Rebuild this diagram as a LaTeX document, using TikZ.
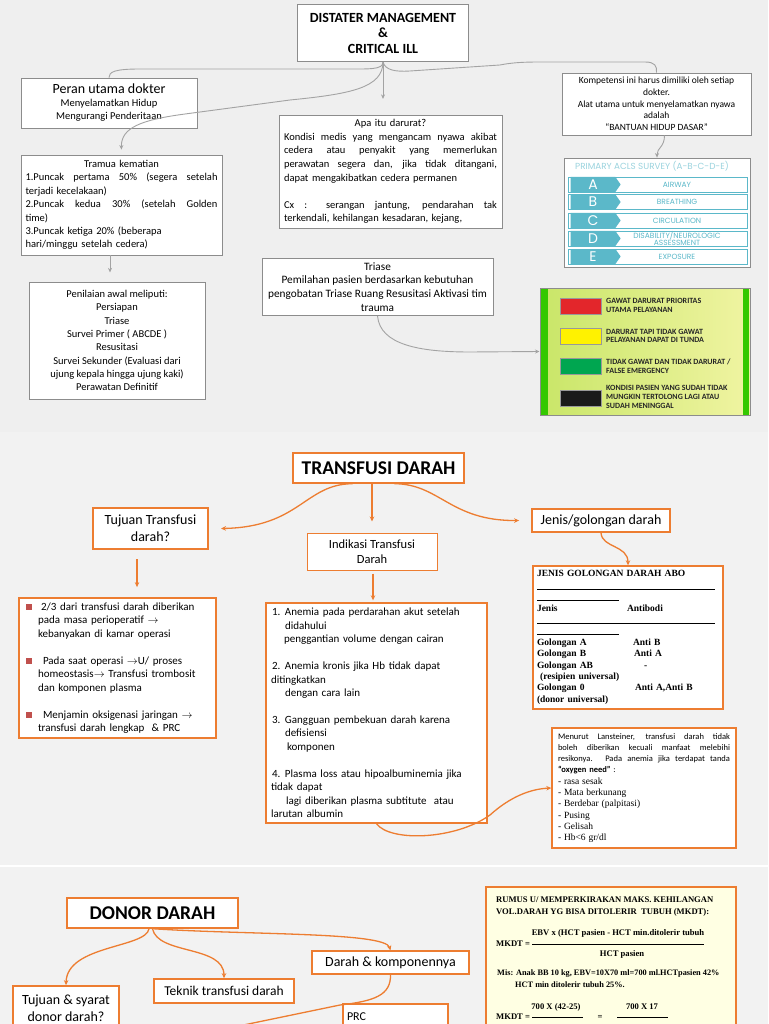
\documentclass[tikz,border=0pt]{standalone}
\usepackage{fontspec}
\setmainfont{Carlito}
\newfontfamily\tnr{Liberation Serif}
\newfontfamily\aclsfont{Poppins}
\usetikzlibrary{arrows.meta,shapes.symbols}

\definecolor{bgtop}{HTML}{EFEFEF}
\definecolor{bgmid}{HTML}{F2F2F2}
\definecolor{boxgray}{HTML}{8C8C8C}
\definecolor{linegray}{HTML}{A3A3A3}
\definecolor{orng}{HTML}{ED7D31}
\definecolor{aclsteal}{HTML}{5BB8C9}
\definecolor{aclslight}{HTML}{9AD3DE}
\definecolor{limeA}{HTML}{C9E668}
\definecolor{limeB}{HTML}{F0F4A2}
\definecolor{bargreen}{HTML}{34C800}
\definecolor{swred}{HTML}{E3262B}
\definecolor{swyellow}{HTML}{FFF200}
\definecolor{swgreen}{HTML}{00A650}
\definecolor{swblack}{HTML}{1A1A1A}
\definecolor{mkdtfill}{HTML}{FFFFE3}
\definecolor{bulred}{HTML}{C0504D}

\newcommand{\fsz}[2]{\fontsize{#1}{#2}\selectfont}
% justified line of a given width, centred line of a given width
\newcommand{\jl}[2]{{\spaceskip=0pt\xspaceskip=0pt\makebox[#1][s]{#2}}}
\newcommand{\ctrline}[2]{\hbox to #1{\hfil #2\hfil}}
\newcommand{\bul}{\hspace*{2pt}\textcolor{bulred}{\rule{6pt}{6pt}}}

\begin{document}
\begin{tikzpicture}[x=1pt, y=-1pt,
  graybox/.style={rectangle, draw=boxgray, line width=0.8pt, fill=white, inner sep=0pt, align=center},
  orangebox/.style={rectangle, draw=orng, line width=1.4pt, fill=white, inner sep=0pt, align=center},
  grayline/.style={draw=linegray, line width=0.9pt},
  grayarrow/.style={grayline, -{Stealth[length=4.5pt,width=4pt]}},
  orangeline/.style={draw=orng, line width=1.3pt},
  orangearrow/.style={orangeline, -{Stealth[length=5pt,width=4.5pt]}},
  aclsrow/.style={rectangle, draw=aclsteal, line width=0.8pt, fill=white, minimum width=179pt, minimum height=15pt, inner sep=0pt},
  aclsltr/.style={signal, signal to=east, signal pointer angle=110, fill=aclsteal, minimum width=50pt, minimum height=15pt, inner sep=0pt, text=white, font=\aclsfont\fsz{14}{14}},
  aclslbl/.style={inner sep=0pt, align=center, text=aclsteal, font=\aclsfont\fsz{7.5}{7}},
  swatch/.style={rectangle, draw=black!40, line width=0.4pt, minimum width=41pt, minimum height=16pt, inner sep=0pt},
  tritext/.style={anchor=west, inner sep=0pt, align=left, text=black!85, font=\bfseries\fsz{8}{8.7}},
  mkdttext/.style={inner sep=0pt, align=left, font=\tnr\bfseries\fsz{8.6}{11.6}}]

\useasboundingbox (0,0) rectangle (768,1024);
\clip (0,0) rectangle (768,1024);

% Background
\fill[bgtop] (0,0) rectangle (768,432);
\fill[bgmid] (0,432) rectangle (768,1024);
\draw[white, line width=1.2pt] (0,866) -- (768,866);

% Nodes: disaster management
\node (distater) [graybox, minimum width=171pt, minimum height=57pt, font=\bfseries\fsz{14}{15.5}] at (383,33) {DISTATER MANAGEMENT\\\&\\CRITICAL ILL};
\node (peran) [graybox, minimum width=176pt, minimum height=50pt, font=\fsz{10.5}{13}] at (109,103) {{\fsz{14}{15}Peran utama dokter}\\Menyelamatkan Hidup\\Mengurangi Penderitaan};
\node (tramua) [graybox, minimum width=201pt, minimum height=100pt, text width=192pt, align=left, font=\fsz{10.5}{13.4}] at (121.5,205) {\ctrline{192pt}{Tramua kematian}\\
\jl{192pt}{1.Puncak pertama 50\% (segera setelah}\\
terjadi kecelakaan)\\
\jl{192pt}{2.Puncak kedua 30\% (setelah Golden}\\
time)\\
3.Puncak ketiga 20\% (beberapa\\
hari/minggu setelah cedera)};
\node (penilaian) [graybox, minimum width=176pt, minimum height=117pt, font=\fsz{10.5}{13.3}] at (117,340.5) {Penilaian awal meliputi:\\Persiapan\\Triase\\Survei Primer ( ABCDE )\\Resusitasi\\Survei Sekunder (Evaluasi dari\\ujung kepala hingga ujung kaki)\\Perawatan Definitif};
\node (darurat) [graybox, minimum width=223pt, minimum height=113pt, text width=213pt, align=left, font=\fsz{10.5}{13.6}] at (390.5,171.5) {\ctrline{213pt}{Apa itu darurat?}\\
\jl{213pt}{Kondisi medis yang mengancam nyawa akibat}\\
\jl{213pt}{cedera atau penyakit yang memerlukan}\\
\jl{213pt}{perawatan segera dan, jika tidak ditangani,}\\
dapat mengakibatkan cedera permanen\\[13.6pt]
\jl{213pt}{Cx : serangan jantung, pendarahan tak}\\
terkendali, kehilangan kesadaran, kejang,};
\node (triase) [graybox, minimum width=231pt, minimum height=57pt, font=\fsz{11.3}{13.8}] at (377.5,287) {Triase\\Pemilahan pasien berdasarkan kebutuhan\\pengobatan Triase Ruang Resusitasi Aktivasi tim\\trauma};
\node (kompetensi) [graybox, minimum width=189pt, minimum height=62pt, font=\fsz{9.5}{11.7}] at (656.5,104) {Kompetensi ini harus dimiliki oleh setiap\\dokter.\\Alat utama untuk menyelamatkan nyawa\\adalah\\``BANTUAN HIDUP DASAR''};

% ACLS survey
\node (acls) [graybox, minimum width=186pt, minimum height=109pt] at (657,212.5) {};
\node (aclstitle) [inner sep=0pt, text=aclslight, font=\aclsfont\fsz{8.8}{9}] at (652,166) {PRIMARY ACLS SURVEY (A-B-C-D-E)};
\node (rowA) [aclsrow] at (657.5,184.5) {};
\node (ltrA) [aclsltr] at (593,184.5) {A};
\node (lblA) [aclslbl] at (677,184.5) {AIRWAY};
\node (rowB) [aclsrow] at (657.5,202) {};
\node (ltrB) [aclsltr] at (593,202) {B};
\node (lblB) [aclslbl] at (677,202) {BREATHING};
\node (rowC) [aclsrow] at (657.5,220.5) {};
\node (ltrC) [aclsltr] at (593,220.5) {C};
\node (lblC) [aclslbl] at (677,220.5) {CIRCULATION};
\node (rowD) [aclsrow] at (657.5,238.5) {};
\node (ltrD) [aclsltr] at (593,238.5) {D};
\node (lblD) [aclslbl] at (677,238.5) {DISABILITY/NEUROLOGIC\\ASSESSMENT};
\node (rowE) [aclsrow] at (657.5,256.5) {};
\node (ltrE) [aclsltr] at (593,256.5) {E};
\node (lblE) [aclslbl] at (677,256.5) {EXPOSURE};

% Triage colours
\node (triage) [rectangle, draw=boxgray, line width=1pt, left color=limeA, right color=limeB, minimum width=210pt, minimum height=127pt] at (645,351.5) {};
\fill[bargreen] (541,288.5) rectangle (548,414.5);
\fill[bargreen] (743,288.5) rectangle (749,414.5);
\node (swRed) [swatch, fill=swred] at (580.5,306) {};
\node (txtRed) [tritext] at (606,305.5) {GAWAT DARURAT PRIORITAS\\UTAMA PELAYANAN};
\node (swYellow) [swatch, fill=swyellow] at (580.5,336) {};
\node (txtYellow) [tritext] at (606,336) {DARURAT TAPI TIDAK GAWAT\\PELAYANAN DAPAT DI TUNDA};
\node (swGreen) [swatch, fill=swgreen] at (580.5,366) {};
\node (txtGreen) [tritext] at (606,366) {TIDAK GAWAT DAN TIDAK DARURAT /\\FALSE EMERGENCY};
\node (swBlack) [swatch, fill=swblack] at (580.5,398) {};
\node (txtBlack) [tritext] at (606,397) {KONDISI PASIEN YANG SUDAH TIDAK\\MUNGKIN TERTOLONG LAGI ATAU\\SUDAH MENINGGAL};

% Arrows: disaster management
\draw [grayline] (distater.south) .. controls (383,70) and (370,69) .. (340,69) -- (140,69) .. controls (114,69) and (109,72) .. (peran.north);
\draw [grayline] (distater.south) .. controls (385,70) and (395,72) .. (410,71) -- (500,65) .. controls (510,63) and (520,62) .. (540,62) -- (645,62) .. controls (655,62) and (657,66) .. (kompetensi.north);
\draw [grayarrow, shorten >=5pt] (distater.south) .. controls (383,88) and (350,94) .. (290,100) -- (185,114) .. controls (140,120) and (121,128) .. (tramua.north);
\draw [grayarrow] (distater.south) -- ++(0,37);
\draw [grayarrow] ([xshift=-11.5pt]tramua.south) -- ++(0,17);
\draw [grayarrow] ([xshift=8pt]kompetensi.south) .. controls +(0,12) and +(0,-10) .. (acls.north);
\draw [grayarrow] (triase.south) .. controls (380,345) and (420,352) .. (470,352) -- (triage.west);

% Nodes: transfusi darah
\node (transfusi) [orangebox, minimum width=171pt, minimum height=30pt, font=\bfseries\fsz{19.5}{20}] at (378.5,468) {TRANSFUSI DARAH};
\node (tujuan) [orangebox, line width=2pt, minimum width=115pt, minimum height=41pt, font=\fsz{14}{17}] at (150.5,528.5) {Tujuan Transfusi\\darah?};
\node (indikasi) [orangebox, line width=1pt, minimum width=130pt, minimum height=37pt, font=\fsz{12.5}{15}] at (372,551.5) {Indikasi Transfusi\\Darah};
\node (jenis) [orangebox, line width=1.8pt, minimum width=138pt, minimum height=23pt, font=\fsz{14}{16}] at (601,520.5) {Jenis/golongan darah};
\node (abo) [orangebox, minimum width=190pt, minimum height=143pt, text width=182pt, align=left, font=\tnr\bfseries\fsz{9.5}{11.4}] at (628,637.5) {JENIS GOLONGAN DARAH ABO\\
\rule[-1pt]{178pt}{0.5pt}\\
\rule[-1pt]{82pt}{0.5pt}\\
\makebox[90pt][l]{Jenis}Antibodi\\
\rule[-1pt]{178pt}{0.5pt}\\
\rule[-1pt]{82pt}{0.5pt}\\
\makebox[96pt][l]{Golongan A}Anti B\\
\makebox[97pt][l]{Golongan B}Anti A\\
\makebox[107pt][l]{Golongan AB}-\\
\ (resipien universal)\\
\makebox[98pt][l]{Golongan 0}Anti A,Anti B\\
(donor universal)};
\node (tujuanlist) [orangebox, line width=1.8pt, minimum width=197pt, minimum height=140pt, text width=187pt, align=left, font=\fsz{11}{13.5}] at (117.5,668) {\bul\hspace{9pt}2/3 dari transfusi darah diberikan\\
\hspace*{14pt}pada masa perioperatif $\rightarrow$\\
\hspace*{14pt}kebanyakan di kamar operasi\\[13.5pt]
\bul\hspace{11pt}Pada saat operasi $\rightarrow$U/ proses\\
\hspace*{14pt}homeostasis$\rightarrow$ Transfusi trombosit\\
\hspace*{14pt}dan komponen plasma\\[13.5pt]
\bul\hspace{11pt}Menjamin oksigenasi jaringan $\rightarrow$\\
\hspace*{14pt}transfusi darah lengkap \ \& PRC};
\node (indikasilist) [orangebox, minimum width=221pt, minimum height=220pt, text width=211pt, align=left, font=\fsz{11}{13.45}] at (376.5,713) {\makebox[14pt][l]{\hspace*{1pt}1.}Anemia pada perdarahan akut setelah\\
\hspace*{14pt}didahului\\
\hspace*{13pt}penggantian volume dengan cairan\\[13.45pt]
\makebox[14pt][l]{\hspace*{1pt}2.}Anemia kronis jika Hb tidak dapat\\
ditingkatkan\\
\hspace*{14pt}dengan cara lain\\[13.45pt]
\makebox[14pt][l]{\hspace*{1pt}3.}Gangguan pembekuan darah karena\\
\hspace*{14pt}defisiensi\\
\hspace*{16pt}komponen\\[13.45pt]
\makebox[14pt][l]{\hspace*{1pt}4.}Plasma loss atau hipoalbuminemia jika\\
tidak dapat\\
\hspace*{15pt}lagi diberikan plasma subtitute \ atau\\
larutan albumin};
\node (lansteiner) [orangebox, minimum width=184pt, minimum height=120pt, text width=172pt, align=left, font=\fsz{8.5}{11.3}] at (644,788) {\jl{172pt}{Menurut Lansteiner, transfusi darah tidak}\\
\jl{172pt}{boleh diberikan kecuali manfaat melebihi}\\
\jl{172pt}{resikonya. Pada anemia jika terdapat tanda}\\
\textbf{``oxygen need''} :\\
{\tnr\fsz{9.5}{11.3}- rasa sesak}\\
{\tnr\fsz{9.5}{11.3}- Mata berkunang}\\
{\tnr\fsz{9.5}{11.3}- Berdebar (palpitasi)}\\
{\tnr\fsz{9.5}{11.3}- Pusing}\\
{\tnr\fsz{9.5}{11.3}- Gelisah}\\
{\tnr\fsz{9.5}{11.3}- Hb<6 gr/dl}};

% Arrows: transfusi darah
\draw [orangearrow] ([xshift=-26pt]transfusi.south) .. controls (305,484) and (300,527) .. ([xshift=12pt]tujuan.east);
\draw [orangearrow, shorten >=11pt] ([xshift=-6.5pt]transfusi.south) -- (indikasi.north);
\draw [orangearrow] ([xshift=16pt]transfusi.south) .. controls (440,484) and (450,521) .. ([xshift=-12pt]jenis.west);
\draw [orangearrow] (jenis.south) .. controls (602,548) and (628,545) .. (abo.north);
\draw [orangearrow, shorten <=9pt, shorten >=10pt] ([xshift=-13.5pt]tujuan.south) -- ([xshift=19.5pt]tujuanlist.north);
\draw [orangearrow, shorten <=3pt, shorten >=2pt] ([xshift=1pt]indikasi.south) -- ([xshift=-3.5pt]indikasilist.north);
\draw [orangearrow] (indikasilist.south) .. controls (390,842) and (455,840) .. (490,815) .. controls (510,797) and (530,789) .. (lansteiner.west);

% Nodes: donor darah
\node (donor) [orangebox, line width=1.6pt, minimum width=171pt, minimum height=30pt, font=\bfseries\fsz{19.5}{20}] at (152.5,913) {DONOR DARAH};
\node (syarat) [orangebox, line width=1.8pt, minimum width=106pt, minimum height=44pt, font=\fsz{14}{17.5}] at (66,1008) {Tujuan \& syarat\\donor darah?};
\node (teknik) [orangebox, line width=1.6pt, minimum width=140pt, minimum height=24pt, font=\fsz{13.5}{15}] at (224,991) {Teknik transfusi darah};
\node (komponen) [orangebox, line width=1.2pt, minimum width=157pt, minimum height=23pt, font=\fsz{14}{16}] at (390.5,962.5) {Darah \& komponennya};
\node (prc) [orangebox, line width=1.2pt, minimum width=105pt, minimum height=26pt, text width=97pt, align=left, font=\fsz{12}{14}] at (395.5,1017) {PRC};
\coordinate (offpage) at (200,1034);

% MKDT formula
\node (mkdt) [orangebox, fill=mkdtfill, line width=1.4pt, minimum width=250pt, minimum height=155pt] at (611,964.5) {};
\node (mkdthead) [mkdttext, anchor=north west] at (496,897) {RUMUS U/ MEMPERKIRAKAN MAKS. KEHILANGAN\\VOL.DARAH YG BISA DITOLERIR\ \ TUBUH (MKDT):};
\node (ebv) [mkdttext, anchor=base] at (618,935.5) {EBV x (HCT pasien - HCT min.ditolerir tubuh};
\node (mkdteq) [mkdttext, anchor=base west] at (496,946) {MKDT =};
\draw [line width=0.6pt] (532,944) -- (704,944);
\node (hct) [mkdttext, anchor=base] at (622,956) {HCT pasien};
\node (mis) [mkdttext, anchor=north west, font=\tnr\bfseries\fsz{8.3}{11.6}] at (497,970) {Mis: Anak BB 10 kg, EBV=10X70 ml=700 ml.HCTpasien 42\%\\\hspace*{18pt}HCT min ditolerir tubuh 25\%.};
\node (num1) [mkdttext, anchor=base] at (556,1009) {700 X (42-25)};
\node (num2) [mkdttext, anchor=base] at (642,1009) {700 X 17};
\node (mkdteq2) [mkdttext, anchor=base west] at (496,1019) {MKDT =};
\draw [line width=0.6pt] (532,1017) -- (583,1017);
\node (eqsign) [mkdttext, anchor=base] at (600,1019) {=};
\draw [line width=0.6pt] (617,1017) -- (668,1017);

% Arrows: donor darah
\draw [orangearrow] ([xshift=-3.5pt]donor.south) .. controls (146,948) and (67,945) .. (syarat.north);
\draw [orangearrow] (donor.south) .. controls (158,955) and (224,945) .. (teknik.north);
\draw [orangearrow] ([xshift=1.5pt]donor.south) .. controls (250,935) and (385,932) .. (komponen.north);
\draw [orangeline] (komponen.south) .. controls (391,995) and (375,1001) .. (340,1005) -- (offpage);

\end{tikzpicture}
\end{document}
